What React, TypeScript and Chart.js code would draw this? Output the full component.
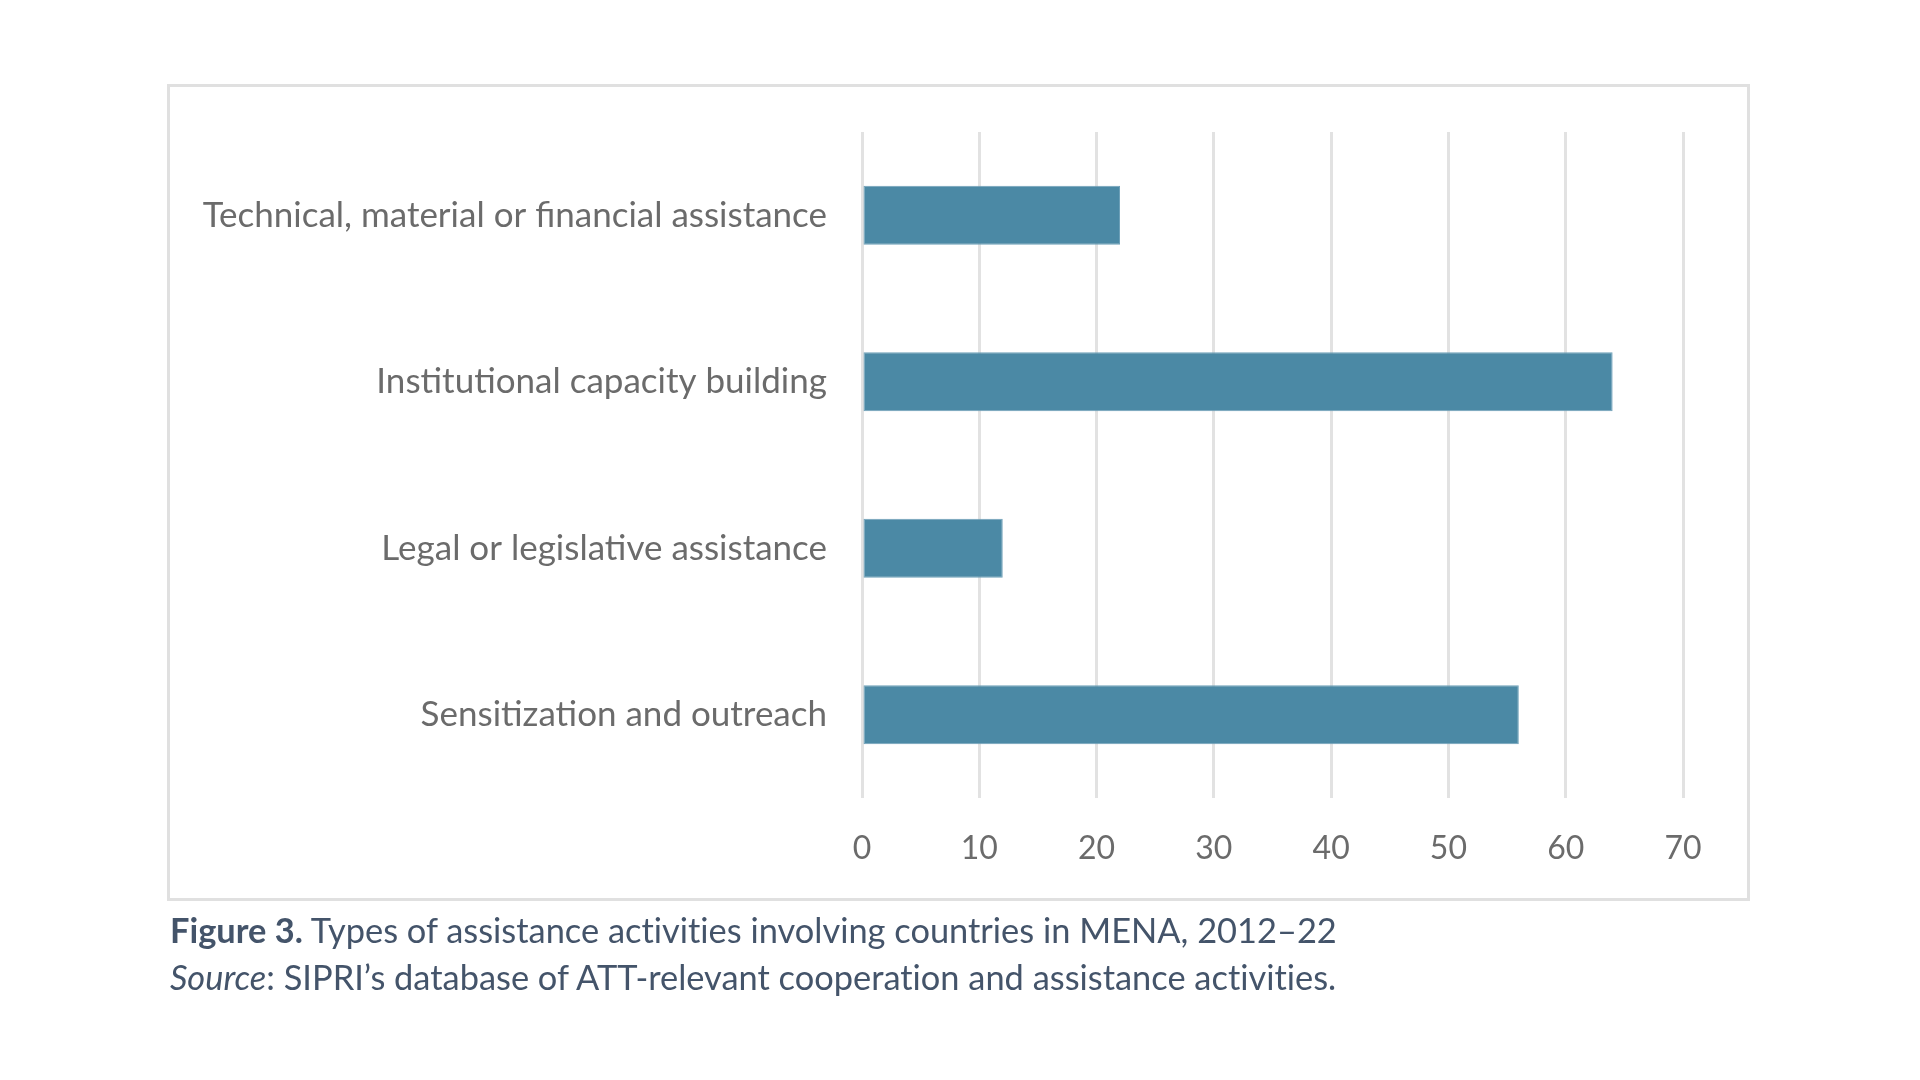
import React, { useEffect, useRef } from "react";
import { Chart, registerables } from "chart.js";

Chart.register(...registerables);

const categories: string[] = [
  "Technical, material or financial assistance",
  "Institutional capacity building",
  "Legal or legislative assistance",
  "Sensitization and outreach",
];
const values: number[] = [22, 64, 12, 56];
const axisMin = 0;
const axisMax = 70;
const axisStep = 10;

const captionTitle = "Figure 3.";
const captionText = " Types of assistance activities involving countries in MENA, 2012\u201322";
const sourceLabel = "Source";
const sourceText = ": SIPRI\u2019s database of ATT-relevant cooperation and assistance activities.";

const FONT = "Lato, 'Open Sans', sans-serif";

export default function App() {
  const canvasRef = useRef<HTMLCanvasElement | null>(null);

  useEffect(() => {
    const canvas = canvasRef.current;
    if (!canvas) return;
    const chart = new Chart(canvas, {
      type: "bar",
      data: {
        labels: categories,
        datasets: [
          {
            data: values,
            backgroundColor: "#4b89a5",
            borderColor: "#6fa1b9",
            borderWidth: 1,
            borderSkipped: false,
            categoryPercentage: 1,
            barPercentage: 0.355,
          },
        ],
      },
      options: {
        indexAxis: "y",
        animation: false,
        responsive: false,
        maintainAspectRatio: false,
        devicePixelRatio: 1,
        layout: { padding: { top: 132, right: 237, bottom: 0, left: 0 } },
        plugins: {
          legend: { display: false },
          tooltip: { enabled: false },
          title: { display: false },
        },
        scales: {
          x: {
            type: "linear",
            min: axisMin,
            max: axisMax,
            border: { display: false },
            grid: {
              color: "#e2e2e2",
              lineWidth: 3,
              drawTicks: false,
            },
            ticks: {
              stepSize: axisStep,
              padding: 31,
              color: "#6b6b6b",
              font: { family: FONT, size: 32 },
            },
            afterFit: (scale: any) => {
              scale.height = 282;
            },
          },
          y: {
            border: { display: false },
            grid: { display: false, drawTicks: false },
            ticks: {
              padding: 35,
              color: "#6b6b6b",
              font: { family: FONT, size: 35 },
            },
            afterFit: (scale: any) => {
              scale.width = 862;
            },
          },
        },
      },
    });
    return () => chart.destroy();
  }, []);

  return (
    <div
      style={{
        position: "absolute",
        left: 0,
        top: 0,
        width: 1920,
        height: 1080,
        background: "#ffffff",
        overflow: "hidden",
      }}
    >
      <div
        style={{
          position: "absolute",
          left: 167,
          top: 84,
          width: 1583,
          height: 817,
          border: "3px solid #e0e0e0",
          boxSizing: "border-box",
        }}
      />
      <canvas
        ref={canvasRef}
        width={1920}
        height={1080}
        style={{ position: "absolute", left: 0, top: 0, width: 1920, height: 1080 }}
      />
      <div
        style={{
          position: "absolute",
          left: 170,
          top: 906,
          fontFamily: FONT,
          fontSize: 34.4,
          lineHeight: "47px",
          color: "#44546a",
          whiteSpace: "nowrap",
          fontVariantLigatures: "none",
        }}
      >
        <div>
          <b>{captionTitle}</b>
          {captionText}
        </div>
        <div>
          <i>{sourceLabel}</i>
          {sourceText}
        </div>
      </div>
    </div>
  );
}
